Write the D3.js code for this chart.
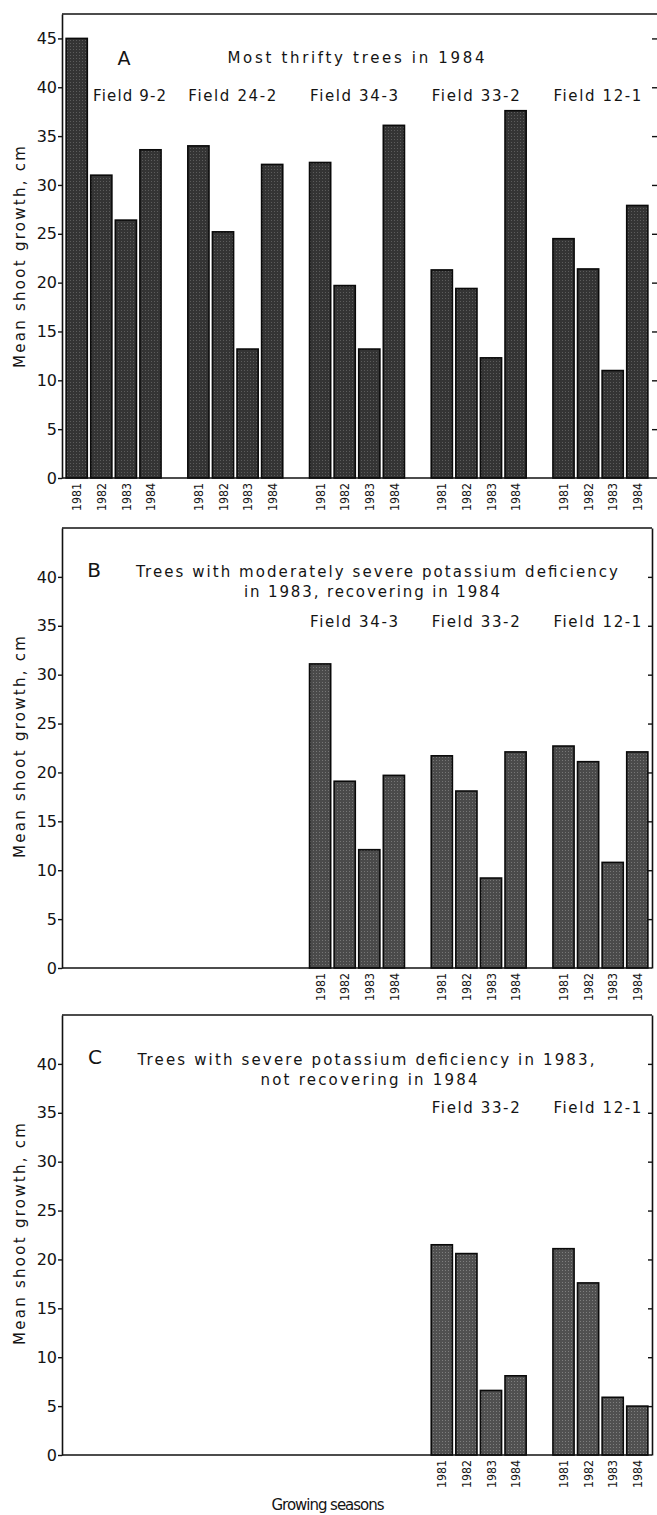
<!DOCTYPE html>
<html>
<head>
<meta charset="utf-8">
<script src="https://cdn.jsdelivr.net/npm/d3@7"></script>
<style>
  body { margin: 0; background: #fff; }
  text { font-family: "DejaVu Sans", sans-serif; fill: #141414; }
</style>
</head>
<body>
<svg width="657" height="1515"></svg>
<script>
// ---- data ----
const fields = ["Field 9-2", "Field 24-2", "Field 34-3", "Field 33-2", "Field 12-1"];
const years = ["1981", "1982", "1983", "1984"];
const yTicksA = [0, 5, 10, 15, 20, 25, 30, 35, 40, 45];
const yTicksBC = [0, 5, 10, 15, 20, 25, 30, 35, 40];

const fieldsA = ["Field 9-2", "Field 24-2", "Field 34-3", "Field 33-2", "Field 12-1"];
const growthA = [
  [45.0, 31.0, 26.4, 33.6],
  [34.0, 25.2, 13.2, 32.1],
  [32.3, 19.7, 13.2, 36.1],
  [21.3, 19.4, 12.3, 37.6],
  [24.5, 21.4, 11.0, 27.9]
];
const fieldsB = ["Field 34-3", "Field 33-2", "Field 12-1"];
const growthB = [
  [31.1, 19.1, 12.1, 19.7],
  [21.7, 18.1, 9.2, 22.1],
  [22.7, 21.1, 10.8, 22.1]
];
const fieldsC = ["Field 33-2", "Field 12-1"];
const growthC = [
  [21.5, 20.6, 6.6, 8.1],
  [21.1, 17.6, 5.9, 5.0]
];
const titlesA = ["Most thrifty trees in 1984"];
const titlesB = ["Trees with moderately severe potassium deficiency", "in 1983, recovering in 1984"];
const titlesC = ["Trees with severe potassium deficiency in 1983,", "not recovering in 1984"];
const yLabel = "Mean shoot growth, cm";
const xLabel = "Growing seasons";

// ---- layout ----
const svg = d3.select("svg");
const left = 62, right = 652;

const panels = [
  { letter: "A", fields: fieldsA, values: growthA, titles: titlesA, ticks: yTicksA,
    zero: 478, top: 14, yMax: 47.5, edge: 657, frameRight: false,
    letterAt: [124, 65, 19], titleAt: [[356, 63, 257]], fieldY: 101, tone: "toneA" },
  { letter: "B", fields: fieldsB, values: growthB, titles: titlesB, ticks: yTicksBC,
    zero: 968, top: 528, yMax: 45, edge: right, frameRight: true,
    letterAt: [94, 577, 20], titleAt: [[377, 577, 482], [372, 597, 256]], fieldY: 627, tone: "toneB" },
  { letter: "C", fields: fieldsC, values: growthC, titles: titlesC, ticks: yTicksBC,
    zero: 1455, top: 1015, yMax: 45, edge: right, frameRight: true,
    letterAt: [95, 1064, 20], titleAt: [[366, 1065, 457], [369, 1085, 217]], fieldY: 1113, tone: "toneC" }
];

// stippled screen-tone fills
const tones = [
  { id: "toneA", base: "#343434", dot: "#5c5c5c" },
  { id: "toneB", base: "#4a4a4a", dot: "#767676" },
  { id: "toneC", base: "#505050", dot: "#7e7e7e" }
];
const defs = svg.append("defs");
tones.forEach(t => {
  const p = defs.append("pattern").attr("id", t.id)
    .attr("width", 3).attr("height", 3).attr("patternUnits", "userSpaceOnUse");
  p.append("rect").attr("width", 3).attr("height", 3).attr("fill", t.base);
  p.append("rect").attr("x", 1).attr("y", 1).attr("width", 1).attr("height", 1).attr("fill", t.dot);
});

const x0 = d3.scaleBand().domain(fields).range([left, right]).paddingInner(0.22).paddingOuter(0.034);
const x1 = d3.scaleBand().domain(years).range([0, x0.bandwidth()]).paddingInner(0.14);

const fieldLen = s => s.length === 9 ? 73 : 88;

panels.forEach(p => {
  const y = d3.scaleLinear().domain([0, p.yMax]).range([p.zero, p.top]);
  const g = svg.append("g");

  // bars
  const data = p.fields.flatMap((f, i) => years.map((yr, j) => ({ field: f, year: yr, value: p.values[i][j] })));
  g.selectAll("rect.bar")
    .data(data)
    .join("rect")
      .attr("class", "bar")
      .attr("x", d => x0(d.field) + x1(d.year))
      .attr("y", d => y(d.value))
      .attr("width", x1.bandwidth())
      .attr("height", d => y(0) - y(d.value))
      .attr("fill", `url(#${p.tone})`)
      .attr("stroke", "#0a0a0a")
      .attr("stroke-width", 1.6);

  // frame: top and bottom lines
  g.append("line").attr("x1", left).attr("x2", p.edge).attr("y1", p.top).attr("y2", p.top)
    .attr("stroke", "#111").attr("stroke-width", 1.6);
  g.append("line").attr("x1", left).attr("x2", p.edge).attr("y1", y(0)).attr("y2", y(0))
    .attr("stroke", "#111").attr("stroke-width", 1.6);

  // left axis
  const ax = g.append("g")
    .attr("transform", `translate(${left},0)`)
    .call(d3.axisLeft(y).tickValues(p.ticks).tickSize(4).tickPadding(1).tickSizeOuter(0));
  ax.select(".domain").attr("stroke", "#111").attr("stroke-width", 1.6);
  ax.selectAll(".tick line").attr("stroke", "#111").attr("stroke-width", 1.4);
  ax.selectAll("text").attr("font-size", 16).attr("font-family", "DejaVu Sans").attr("fill", "#141414");

  // right side ticks
  const rx = g.append("g")
    .attr("transform", `translate(${p.frameRight ? right : 657},0)`)
    .call(d3.axisRight(y).tickValues(p.ticks.filter(t => t > 0)).tickSize(p.frameRight ? -4 : -5).tickFormat("").tickSizeOuter(0));
  rx.select(".domain").attr("stroke", "#111").attr("stroke-width", 1.6);
  if (!p.frameRight) rx.select(".domain").remove();
  rx.selectAll(".tick line").attr("stroke", "#111").attr("stroke-width", 1.4);

  // year labels under each group
  p.fields.forEach(f => {
    const yg = g.append("g")
      .attr("transform", `translate(${x0(f)},${y(0)})`)
      .call(d3.axisBottom(x1).tickSize(0).tickPadding(0));
    yg.select(".domain").remove();
    yg.selectAll("text")
      .attr("transform", "rotate(-90)")
      .attr("text-anchor", "end")
      .attr("x", -5).attr("y", 0).attr("dy", "0.36em")
      .attr("font-size", 13).attr("font-family", "DejaVu Sans").attr("fill", "#141414")
      .attr("textLength", 28).attr("lengthAdjust", "spacingAndGlyphs");
  });

  // panel letter
  g.append("text")
    .attr("x", p.letterAt[0]).attr("y", p.letterAt[1])
    .attr("text-anchor", "middle")
    .attr("font-size", p.letterAt[2])
    .text(p.letter);

  // titles
  p.titles.forEach((t, i) => {
    const [cx, by, len] = p.titleAt[i];
    g.append("text")
      .attr("x", cx).attr("y", by)
      .attr("text-anchor", "middle")
      .attr("font-size", 15)
      .attr("textLength", len).attr("lengthAdjust", "spacing")
      .text(t);
  });

  // field labels
  g.selectAll("text.field")
    .data(p.fields)
    .join("text")
      .attr("class", "field")
      .attr("x", f => x0(f) + x0.bandwidth() / 2 + (f === "Field 9-2" ? 16 : -3))
      .attr("y", p.fieldY)
      .attr("text-anchor", "middle")
      .attr("font-size", 15)
      .attr("textLength", fieldLen).attr("lengthAdjust", "spacing")
      .text(f => f);

  // y-axis title
  g.append("text")
    .attr("transform", `translate(25,${y(0) - 221}) rotate(-90)`)
    .attr("text-anchor", "middle")
    .attr("font-size", 15)
    .attr("textLength", 222).attr("lengthAdjust", "spacing")
    .text(yLabel);
});

// x-axis title
svg.append("text")
  .attr("x", 328).attr("y", 1510)
  .attr("text-anchor", "middle")
  .attr("font-size", 15)
  .attr("textLength", 113).attr("lengthAdjust", "spacing")
  .text(xLabel);
</script>
</body>
</html>
